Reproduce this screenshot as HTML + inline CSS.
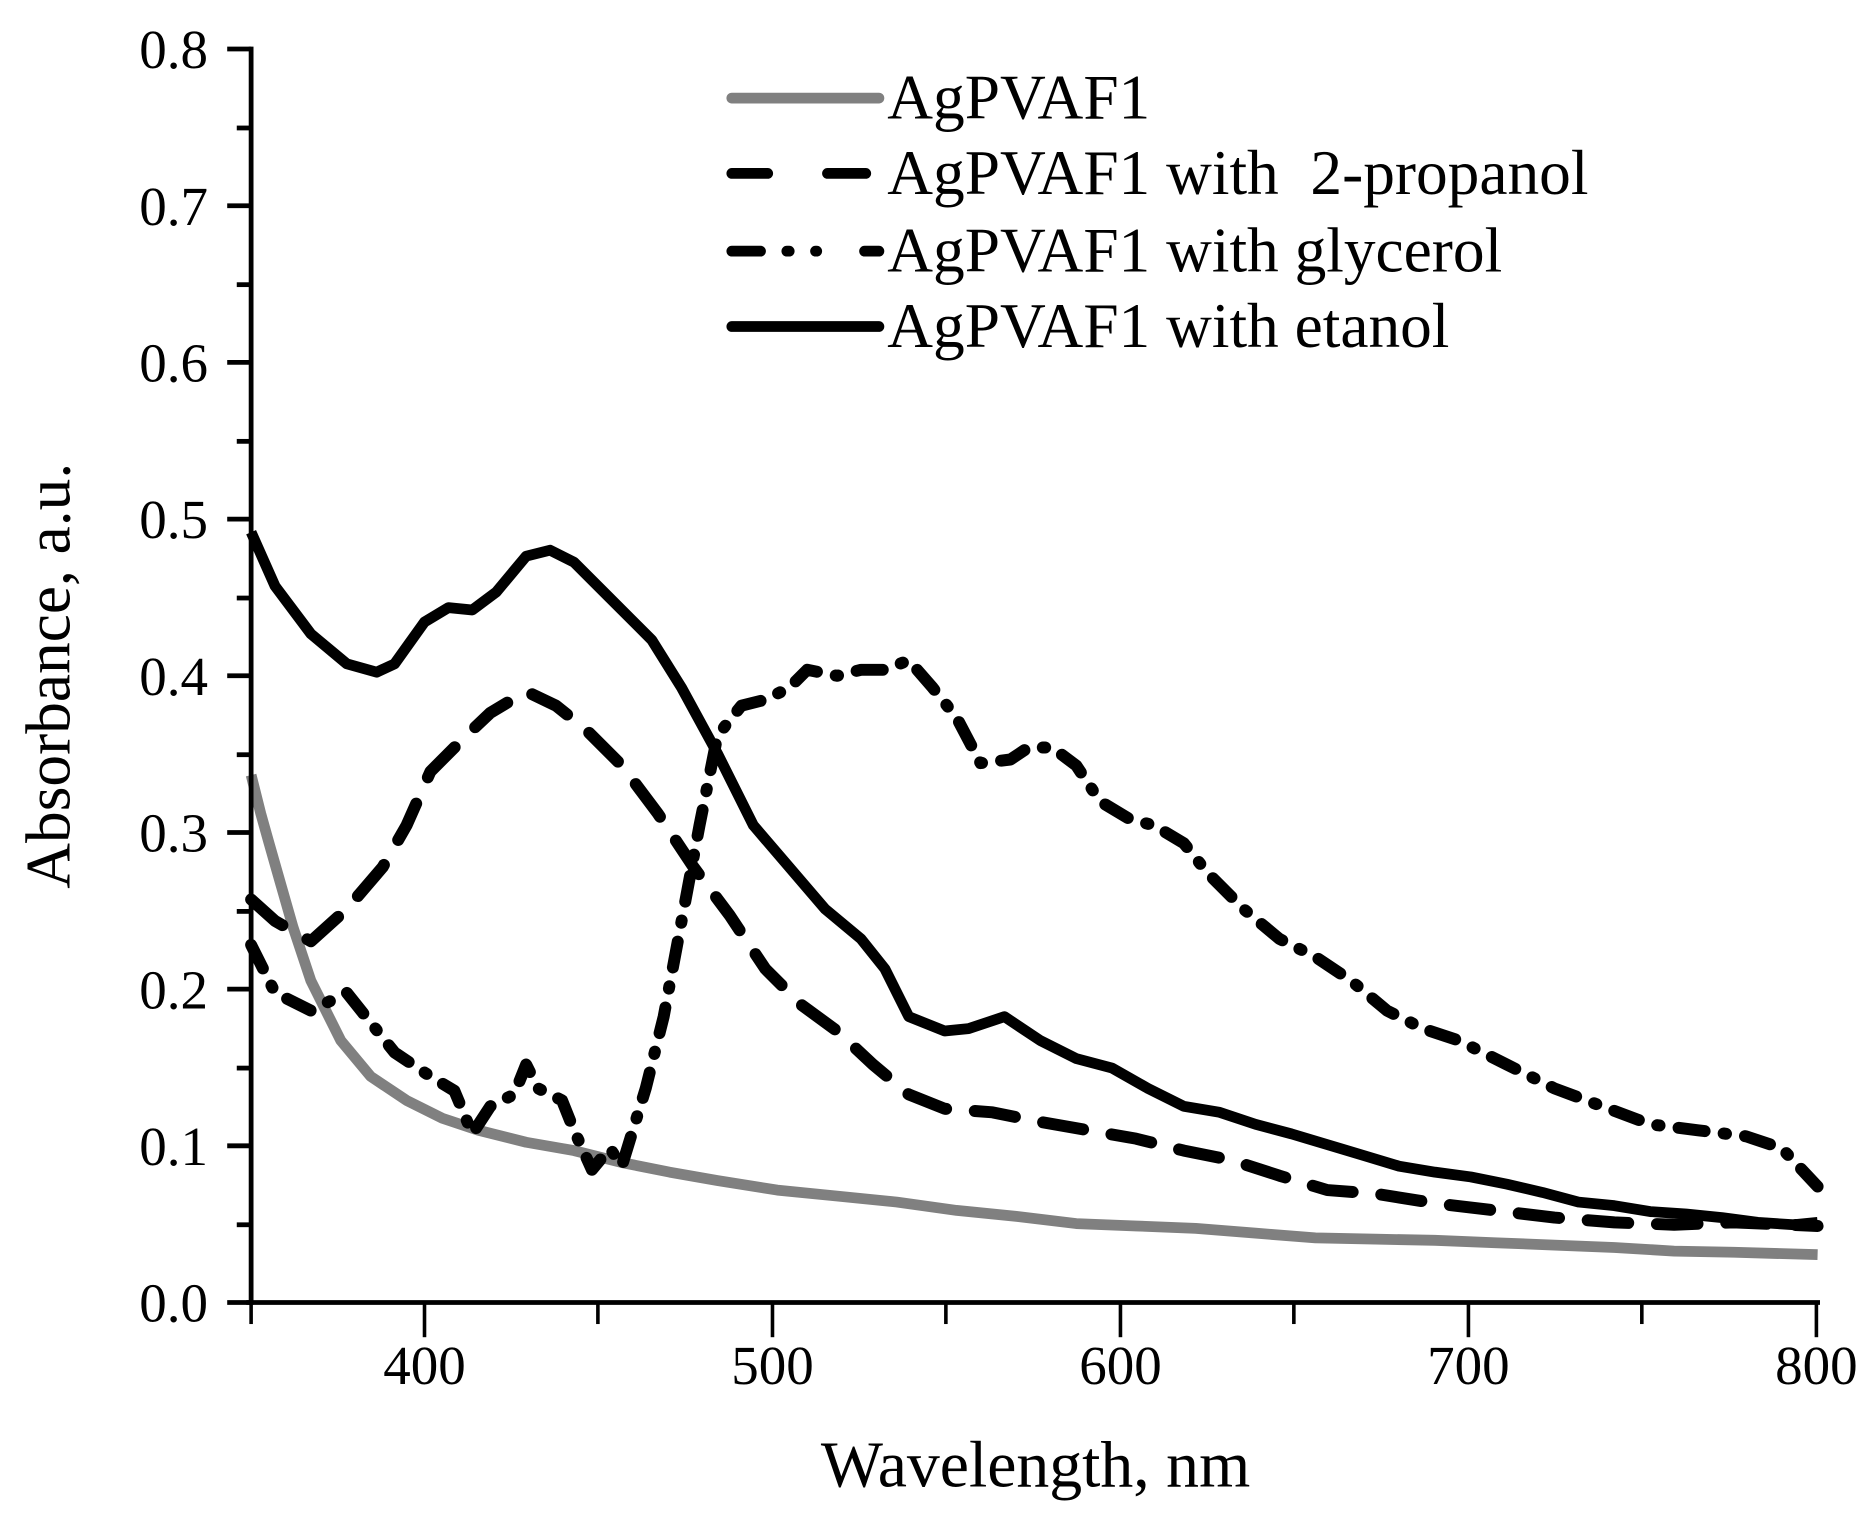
<!DOCTYPE html>
<html><head><meta charset="utf-8"><style>html,body{margin:0;padding:0;background:#fff}svg{display:block}</style></head>
<body>
<svg width="1875" height="1519" viewBox="0 0 1568 1270" preserveAspectRatio="none" xmlns="http://www.w3.org/2000/svg" font-family="Liberation Serif, serif">
<rect width="1568" height="1270" fill="#fff"/>
<g fill="none" stroke-linejoin="round">
<polyline stroke="#808080" stroke-width="9" points="210,648 218,680 225,705 235,740 245,775 260,820 285,870 310,900 340,920 370,935 400,945 440,955 480,962 520,972 560,980 600,987 650,995 700,1000 750,1005 800,1012 850,1017 900,1023 950,1025 1000,1027 1050,1031 1100,1035 1150,1036 1200,1037 1250,1039 1300,1041 1350,1043 1400,1046 1450,1047 1520,1049"/>
<polyline stroke="#000" stroke-width="9" points="210,445 230,490 260,530 290,555 315,562 330,555 355,520 375,508 395,510 415,495 440,465 460,460 480,470 510,500 545,535 570,575 600,630 630,690 660,725 690,760 720,785 740,810 760,850 790,862 810,860 840,850 870,870 900,885 930,893 960,910 990,925 1020,930 1050,940 1080,948 1110,957 1140,966 1170,975 1200,980 1230,984 1260,990 1290,997 1320,1005 1350,1008 1380,1013 1410,1015 1440,1018 1470,1022 1500,1024 1520,1022"/>
<polyline stroke="#000" stroke-width="10" stroke-linecap="round" stroke-dasharray="34 24" points="210,752 230,770 260,787 290,760 320,725 340,690 360,645 390,615 410,596 440,578 465,590 490,610 520,640 550,680 580,725 610,765 640,810 670,840 700,862 730,890 760,915 790,927 830,930 870,938 910,945 950,952 990,962 1030,970 1070,983 1110,995 1150,998 1200,1006 1250,1012 1300,1018 1350,1022 1400,1024 1450,1022 1520,1025"/>
<polyline stroke="#000" stroke-width="10" stroke-linecap="round" stroke-dasharray="22 16 2 16" points="210,790 230,830 260,845 290,830 310,855 330,880 360,900 380,912 395,948 410,925 430,915 440,890 450,910 470,920 480,945 495,978 510,960 520,975 540,910 555,850 570,770 585,690 600,615 620,590 640,585 660,575 675,560 700,565 720,560 740,560 760,552 780,575 800,600 820,638 845,635 860,625 880,625 900,640 920,670 945,685 965,690 990,705 1010,730 1040,760 1070,785 1100,800 1130,820 1160,845 1190,860 1220,870 1260,890 1300,910 1340,925 1380,940 1420,945 1460,950 1490,960 1520,992"/>
</g>
<g stroke="#000" stroke-width="4">
<line x1="210" y1="39" x2="210" y2="1091"/>
<line x1="206" y1="1089" x2="1522" y2="1089"/>
<line x1="190" y1="41" x2="210" y2="41"/><line x1="190" y1="172" x2="210" y2="172"/><line x1="190" y1="303" x2="210" y2="303"/><line x1="190" y1="434" x2="210" y2="434"/><line x1="190" y1="565" x2="210" y2="565"/><line x1="190" y1="696" x2="210" y2="696"/><line x1="190" y1="827" x2="210" y2="827"/><line x1="190" y1="958" x2="210" y2="958"/><line x1="190" y1="1089" x2="210" y2="1089"/>
<line x1="198" y1="107" x2="210" y2="107"/><line x1="198" y1="238" x2="210" y2="238"/><line x1="198" y1="369" x2="210" y2="369"/><line x1="198" y1="500" x2="210" y2="500"/><line x1="198" y1="631" x2="210" y2="631"/><line x1="198" y1="762" x2="210" y2="762"/><line x1="198" y1="893" x2="210" y2="893"/><line x1="198" y1="1024" x2="210" y2="1024"/>
</g>
<g stroke="#000" stroke-width="3">
<line x1="210" y1="1089" x2="210" y2="1107"/><line x1="355" y1="1089" x2="355" y2="1118"/><line x1="500" y1="1089" x2="500" y2="1107"/><line x1="646" y1="1089" x2="646" y2="1118"/><line x1="791" y1="1089" x2="791" y2="1107"/><line x1="937" y1="1089" x2="937" y2="1118"/><line x1="1082" y1="1089" x2="1082" y2="1107"/><line x1="1228" y1="1089" x2="1228" y2="1118"/><line x1="1373" y1="1089" x2="1373" y2="1107"/><line x1="1519" y1="1089" x2="1519" y2="1118"/>
</g>
<g font-size="46" text-anchor="end">
<text x="174" y="57">0.8</text><text x="174" y="188">0.7</text><text x="174" y="319">0.6</text><text x="174" y="450">0.5</text><text x="174" y="581">0.4</text><text x="174" y="712">0.3</text><text x="174" y="843">0.2</text><text x="174" y="974">0.1</text><text x="174" y="1105">0.0</text>
</g>
<g font-size="46" text-anchor="middle">
<text x="355" y="1157">400</text><text x="646" y="1157">500</text><text x="937" y="1157">600</text><text x="1228" y="1157">700</text><text x="1519" y="1157">800</text>
</g>
<text x="866" y="1243" font-size="55" text-anchor="middle">Wavelength, nm</text>
<text transform="translate(58,565) rotate(-90)" font-size="53" text-anchor="middle">Absorbance, a.u.</text>
<g stroke-linecap="round" stroke-width="9">
<line x1="612" y1="82" x2="735" y2="82" stroke="#808080"/>
<line x1="612" y1="145" x2="735" y2="145" stroke="#000" stroke-dasharray="30 50 2 0"/>
<line x1="612" y1="210" x2="735" y2="210" stroke="#000" stroke-dasharray="24 22 2 22 1 40"/>
<line x1="612" y1="273" x2="735" y2="273" stroke="#000"/>
</g>
<g font-size="53">
<text x="742" y="99">AgPVAF1</text>
<text x="742" y="162" xml:space="preserve">AgPVAF1 with  2-propanol</text>
<text x="742" y="227">AgPVAF1 with glycerol</text>
<text x="742" y="290">AgPVAF1 with etanol</text>
</g>
</svg>
</body></html>
